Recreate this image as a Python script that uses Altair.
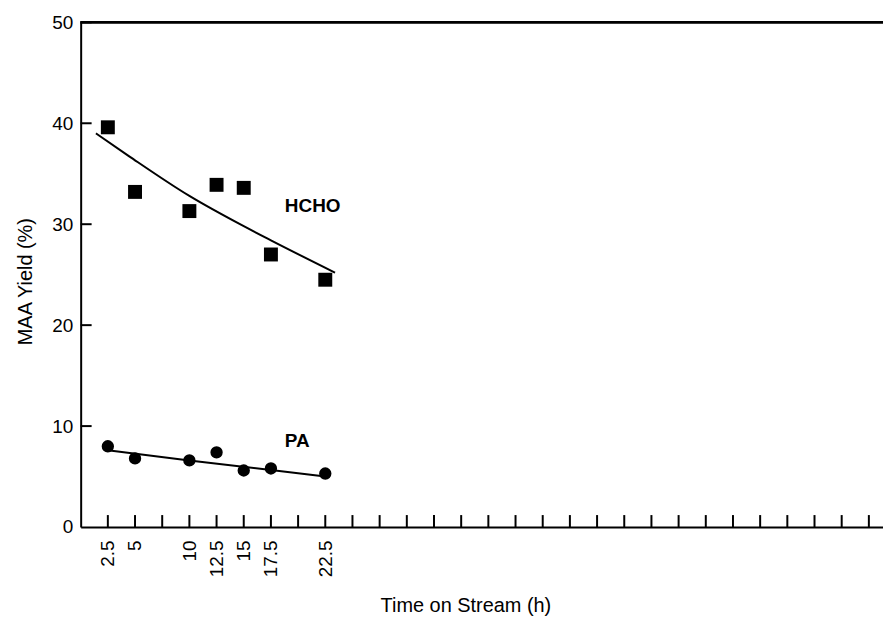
import altair as alt
import pandas as pd

FONT = "Liberation Sans"

# measured data
time_h = [2.5, 5, 10, 12.5, 15, 17.5, 22.5]
hcho_yield = [39.6, 33.2, 31.3, 33.9, 33.6, 27.0, 24.5]
pa_yield = [8.0, 6.8, 6.6, 7.4, 5.6, 5.8, 5.3]

# fitted trend lines
hcho_fit_x = [1.4, 4.5, 10.0, 15.0, 17.5, 23.4]
hcho_fit_y = [39.0, 36.7, 32.8, 29.8, 28.4, 25.2]
pa_fit_x = [2.5, 10.0, 17.5, 22.5]
pa_fit_y = [7.6, 6.6, 5.65, 5.0]

# axis ticks
y_tick_values = [0, 10, 20, 30, 40, 50]
y_tick_marks = [10, 20, 30, 40, 50]
x_tick_marks = [2.5 * i for i in range(1, 30)]

# annotations
label_text = ["HCHO", "PA"]
label_x = [18.78, 18.78]
label_y = [31.8, 8.5]

W, H = 806, 507

xs = alt.Scale(domain=[0, 73.8], nice=False, zero=False)
ys = alt.Scale(domain=[0, 50], nice=False, zero=False)

x_axis = alt.Axis(
    values=time_h, format=".1~f", ticks=False, labelAngle=270, labelPadding=13,
    labelFontSize=19, labelFont=FONT, labelColor="black", labelOverlap=False,
    labelFlush=False, domainColor="black", domainWidth=2, grid=False,
    title="Time on Stream (h)", titleFont=FONT, titleFontSize=20,
    titleFontWeight="normal", titleColor="black", titleX=386.5, titleY=85,
    titleBaseline="alphabetic", titleAlign="center",
)
y_axis = alt.Axis(
    values=y_tick_values, format="d", ticks=False, labelPadding=8,
    labelFontSize=19, labelFont=FONT, labelColor="black", labelFlush=False,
    domainColor="black", domainWidth=2, grid=False,
    title="MAA Yield (%)", titleFont=FONT, titleFontSize=20,
    titleFontWeight="normal", titleColor="black", titleX=-49, titleY=260,
    titleAngle=270, titleBaseline="alphabetic", titleAlign="center",
)


def X(f):
    return alt.X(f, type="quantitative", scale=xs, axis=x_axis)


def Y(f):
    return alt.Y(f, type="quantitative", scale=ys, axis=y_axis)


df_pts = pd.DataFrame({"time": time_h, "hcho": hcho_yield, "pa": pa_yield})
df_hfit = pd.DataFrame({"x": hcho_fit_x, "y": hcho_fit_y})
df_pfit = pd.DataFrame({"x": pa_fit_x, "y": pa_fit_y})
df_lab = pd.DataFrame({"x": label_x, "y": label_y, "t": label_text})
df_xt = pd.DataFrame({"x": x_tick_marks})
df_yt = pd.DataFrame({"y": y_tick_marks})

squares = alt.Chart(df_pts).mark_square(size=196, color="black", opacity=1).encode(
    x=X("time"), y=Y("hcho"))
circles = alt.Chart(df_pts).mark_circle(size=154, color="black", opacity=1).encode(
    x=X("time"), y=Y("pa"))
hline = alt.Chart(df_hfit).mark_line(color="black", strokeWidth=2, interpolate="monotone").encode(
    x=X("x"), y=Y("y"))
pline = alt.Chart(df_pfit).mark_line(color="black", strokeWidth=2).encode(
    x=X("x"), y=Y("y"))
labels = alt.Chart(df_lab).mark_text(
    font=FONT, fontSize=19, fontWeight="bold", color="black", align="left", baseline="middle"
).encode(x=X("x"), y=Y("y"), text="t:N")
xticks = alt.Chart(df_xt).mark_rule(color="black", strokeWidth=2).encode(
    x=X("x"), y=alt.value(H), y2=alt.value(H - 12))
yticks = alt.Chart(df_yt).mark_rule(color="black", strokeWidth=2).encode(
    y=Y("y"), x=alt.value(0), x2=alt.value(11))
topline = alt.Chart(df_yt).mark_rule(color="black", strokeWidth=2).encode(
    y=alt.value(0), x=alt.value(0), x2=alt.value(W))

chart = alt.layer(xticks, yticks, topline, hline, pline, squares, circles, labels).properties(
    width=W, height=H,
    autosize=alt.AutoSizeParams(type="none"),
    padding={"left": 73, "top": 13, "right": 0, "bottom": 90},
    background="white",
).configure_view(stroke=None)

chart.save("out.html", embed_options={"renderer": "svg", "actions": False})
